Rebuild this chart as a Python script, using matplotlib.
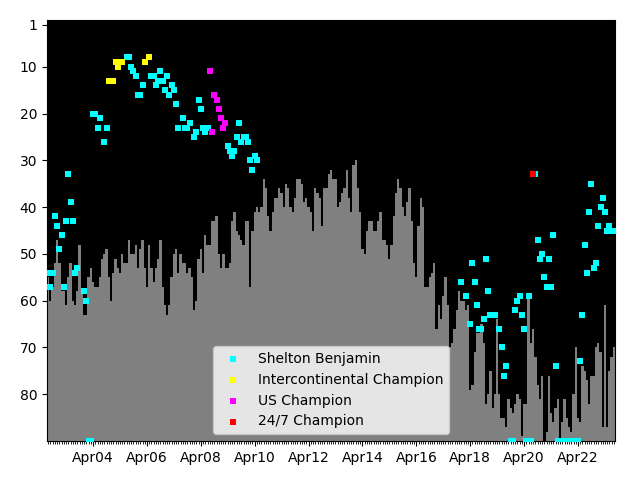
import numpy as np
import pandas as pd
import matplotlib
matplotlib.use("Agg")
import matplotlib.pyplot as plt
import matplotlib.dates as mdates

# Monthly periods (Aug 2002 .. Aug 2023)
months = pd.date_range("2002-08-01", periods=253, freq="MS")

# Gray bars: value per month (rank scale, drawn from value down to the axis bottom)
field_size = [
    55, 60, 57, 52, 47, 52, 58, 58, 61, 55,
    52, 60, 61, 58, 48, 58, 63, 63, 55, 53,
    56, 57, 57, 55, 51, 50, 49, 55, 60, 54,
    51, 53, 54, 50, 52, 52, 47, 50, 50, 48,
    53, 49, 47, 53, 57, 48, 53, 56, 53, 51,
    47, 57, 61, 63, 61, 55, 50, 49, 54, 50,
    52, 52, 54, 53, 55, 62, 60, 51, 49, 54,
    46, 48, 48, 43, 43, 42, 50, 53, 50, 53,
    53, 52, 43, 41, 45, 46, 47, 48, 43, 43,
    57, 45, 41, 40, 41, 40, 34, 36, 42, 45,
    41, 38, 38, 36, 37, 40, 35, 36, 40, 41,
    38, 34, 34, 35, 39, 38, 40, 41, 45, 36,
    37, 38, 44, 36, 36, 33, 32, 34, 34, 40,
    39, 37, 36, 32, 38, 41, 31, 30, 36, 41,
    49, 50, 45, 43, 43, 45, 45, 43, 41, 47,
    47, 48, 51, 48, 42, 37, 34, 36, 40, 42,
    39, 36, 43, 52, 55, 44, 38, 40, 57, 57,
    55, 54, 52, 66, 61, 64, 59, 55, 61, 70,
    69, 66, 62, 58, 60, 60, 62, 61, 79, 78,
    71, 67, 67, 65, 69, 82, 80, 75, 83, 80,
    64, 80, 85, 85, 87, 81, 83, 84, 82, 80,
    81, 89, 82, 82, 59, 69, 66, 72, 78, 81,
    76, 90, 88, 76, 84, 86, 83, 81, 90, 86,
    81, 85, 87, 88, 80, 70, 85, 86, 74, 75,
    77, 82, 76, 76, 70, 69, 71, 87, 61, 87,
    75, 72, 70,
]

# Shelton Benjamin ranks (month index from Aug 2002, rank)
benjamin_idx = [
    0, 1, 2, 3, 4, 5, 6, 7, 8, 9, 10, 11, 12, 13, 16, 17, 18, 19,
    20, 21, 22, 23, 25, 26, 35, 36, 37, 38, 39, 40, 41, 42, 46, 47,
    48, 49, 50, 51, 52, 53, 54, 55, 56, 57, 58, 60, 61, 62, 63, 65,
    66, 67, 68, 69, 70, 71, 80, 81, 82, 83, 84, 85, 86, 87, 88, 89,
    90, 91, 92, 93,
    184, 186, 188, 189, 190, 191, 192, 193, 194, 195, 196, 197, 199,
    201, 202, 203, 204, 206, 207, 208, 209, 210, 211, 212, 213, 214,
    215, 217, 218, 219, 220, 221, 222, 223, 224, 225, 226,
    227, 228, 229, 230, 231, 232, 233, 234, 235, 236,
    237, 238, 239, 240, 241, 242, 243, 244, 245, 246, 247, 248, 249,
    250, 251, 252,
]
benjamin_rank = [
    54, 57, 54, 42, 44, 49, 46, 57, 43, 33, 39, 43, 54, 53, 58, 60, 90, 90,
    20, 20, 23, 21, 26, 23, 8, 8, 10, 11, 12, 16, 16, 14, 12, 12,
    14, 13, 11, 13, 15, 12, 16, 14, 15, 18, 23, 21, 23, 23, 22, 25,
    24, 17, 19, 23, 24, 23, 27, 28, 29, 28, 25, 22, 26, 25, 25, 26,
    30, 32, 29, 30,
    56, 59, 65, 52, 56, 61, 66, 66, 64, 51, 58, 63, 63,
    66, 70, 76, 74, 90, 90, 62, 60, 59, 63, 66, 90, 59,
    90, 33, 47, 51, 50, 55, 57, 51, 57, 46, 74,
    90, 90, 90, 90, 90, 90, 90, 90, 90, 90,
    73, 63, 48, 54, 41, 35, 53, 52, 44, 40, 38, 41, 45,
    44, 45, 45,
]

# Title reigns (month index, rank)
ic_idx = [27, 28, 29, 30, 31, 32, 33, 43, 45]
ic_rank = [13, 13, 13, 9, 10, 9, 9, 9, 8]
us_idx = [72, 73, 74, 75, 76, 77, 78, 79]
us_rank = [11, 24, 16, 17, 19, 21, 23, 22]
t247_idx = [216]
t247_rank = [33]

y_bottom = 90
yticks = [1, 10, 20, 30, 40, 50, 60, 70, 80]

fig = plt.figure(figsize=(6.4, 4.8), dpi=100)
ax = fig.add_axes([47 / 640, 1 - 441 / 480, (615 - 47) / 640, (441 - 20) / 480])
ax.set_facecolor("black")

vals = np.array(field_size, dtype=float)
ax.bar(months, y_bottom - vals, bottom=vals, width=31, color="#808080",
       linewidth=0, align="center", zorder=1)

ms = 13
kw = dict(marker="s", s=ms, linewidths=0)
ax.scatter(months[benjamin_idx], benjamin_rank, color="cyan",
           label="Shelton Benjamin", zorder=3, **kw)
ax.scatter(months[ic_idx], ic_rank, color="yellow",
           label="Intercontinental Champion", zorder=4, **kw)
ax.scatter(months[us_idx], us_rank, color="magenta",
           label="US Champion", zorder=4, **kw)
ax.scatter(months[t247_idx], t247_rank, color="red",
           label="24/7 Champion", zorder=4, **kw)

half = pd.Timedelta(days=15.5)
ax.set_xlim(months[0] - half, months[-1] + half)
ax.set_ylim(y_bottom, 0)
ax.set_yticks(yticks)

ax.xaxis.set_major_locator(mdates.YearLocator(base=2, month=4, day=1))
ax.xaxis.set_major_formatter(mdates.DateFormatter("%b%y"))
ax.xaxis.set_minor_locator(mdates.MonthLocator())

ax.legend(loc="lower center")

fig.savefig("out.png", dpi=100)
